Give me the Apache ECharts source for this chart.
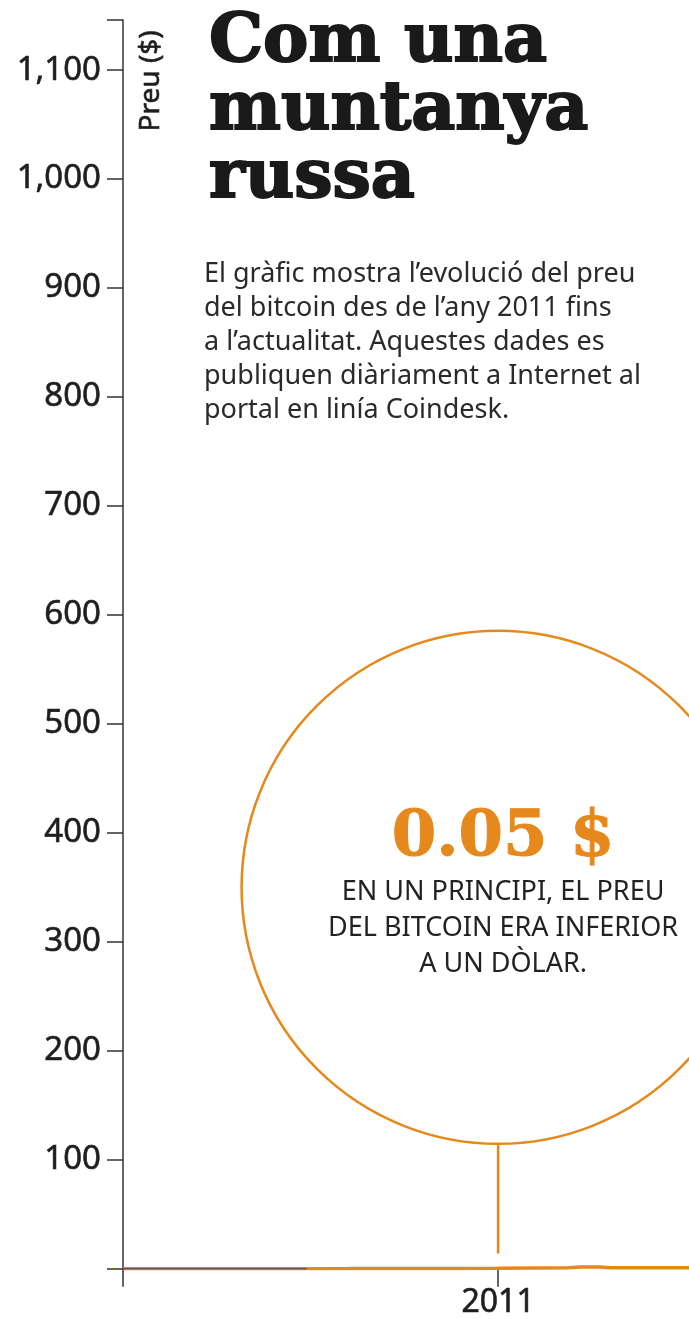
<!DOCTYPE html>
<html style="height: 100%">
<head>
<meta charset="utf-8">
<script src="https://cdn.jsdelivr.net/npm/echarts@6/dist/echarts.min.js"></script>
</head>
<body style="width: 100%; height: 100%; margin: 0; background: #fff; overflow: hidden;">
<div id="container" style="width: 740px; height: 1319px"></div>
<script type="text/javascript">
	// preu del bitcoin (any decimal, $)
	var priceData = [
		[2010.0, 0.05], [2010.49, 0.05], [2010.6, 0.07], [2010.75, 0.2], [2010.9, 0.25],
		[2011.0, 0.3], [2011.1, 0.7], [2011.19, 0.9], [2011.22, 1.6],
		[2011.27, 1.6], [2011.3, 0.9], [2011.4, 0.8], [2011.5, 0.9], [2011.64, 1.0]
	];
	// tram sense dades abans de juliol de 2010
	var noData = [[2010.0, 0], [2010.49, 0]];
	var yTicks = [100, 200, 300, 400, 500, 600, 700, 800, 900, 1000, 1100];
	var yMax = 1146;
	var xMin = 2010, xMax = 2011.637;
	var yearLabel = 2011;
	// cercle d'anotació i línia que el lliga a l'eix
	var calloutPoint = [[2011, 350]];
	var calloutStem = [[2011, 14], [2011, 115]];
	var calloutValue = '0.05 $';
	var calloutLines = ['EN UN PRINCIPI, EL PREU', 'DEL BITCOIN ERA INFERIOR', 'A UN DÒLAR.'];
	var titleLines = ['Com una', 'muntanya', 'russa'];
	var introLines = [
		'El gràfic mostra l\u2019evolució del preu',
		'del bitcoin des de l\u2019any 2011 fins',
		'a l\u2019actualitat. Aquestes dades es',
		'publiquen diàriament a Internet al',
		'portal en linía Coindesk.'
	];

	var orange = '#e5891c';
	var ink = '#1e1e1e';
	var sans = '"Noto Sans", sans-serif';

	var myChart = echarts.init(document.getElementById('container'), null, {renderer: 'canvas'});
	var option = {
		animation: false,
		backgroundColor: '#fff',
		title: [
			{
				text: titleLines.join('\n'),
				left: 204,
				top: 4,
				textStyle: {
					fontFamily: '"DejaVu Serif", serif',
					fontWeight: 'bold',
					fontSize: 68,
					lineHeight: 68,
					color: '#1a1a1a',
					textBorderColor: '#1a1a1a',
					textBorderWidth: 2
				}
			},
			{
				text: introLines.join('\n'),
				left: 199,
				top: 252,
				textStyle: {
					fontFamily: sans,
					fontWeight: 'normal',
					fontSize: 27,
					lineHeight: 34,
					color: '#2a2a2a'
				}
			}
		],
		graphic: [{
			type: 'text',
			left: 137,
			top: 30,
			rotation: Math.PI / 2,
			style: {
				text: 'Preu ($)',
				font: '28px "Noto Sans", sans-serif',
				fill: ink,
				stroke: ink,
				lineWidth: 0.6
			}
		}],
		grid: {
			left: 123,
			right: 0,
			top: 20,
			bottom: 49
		},
		xAxis: {
			type: 'value',
			min: xMin,
			max: xMax,
			interval: 1,
			splitLine: {show: false},
			axisLine: {show: false},
			axisTick: {show: true, length: 18, lineStyle: {color: '#333', width: 1.5}},
			axisLabel: {
				margin: 18,
				fontFamily: sans,
				fontSize: 32,
				color: ink,
				textBorderColor: ink,
				textBorderWidth: 0.6,
				formatter: function (v) {
					return v === yearLabel ? String(v) : '';
				}
			}
		},
		yAxis: {
			type: 'value',
			min: 0,
			max: yMax,
			interval: 100,
			splitLine: {show: false},
			axisLine: {show: true, lineStyle: {color: '#333', width: 1.5}},
			axisTick: {show: true, length: 16, lineStyle: {color: '#333', width: 1.5}},
			axisLabel: {
				margin: 22,
				fontFamily: sans,
				fontSize: 33,
				color: ink,
				textBorderColor: ink,
				textBorderWidth: 0.6,
				formatter: function (v) {
					return yTicks.indexOf(v) >= 0 ? echarts.format.addCommas(v) : '';
				}
			}
		},
		series: [
			{
				type: 'line',
				data: priceData,
				showSymbol: false,
				lineStyle: {color: orange, width: 3.5},
				z: 3
			},
			{
				type: 'line',
				data: noData,
				showSymbol: false,
				lineStyle: {color: '#555', width: 1.5},
				z: 4
			},
			{
				type: 'line',
				data: calloutStem,
				showSymbol: false,
				lineStyle: {color: orange, width: 2.5}
			},
			{
				type: 'scatter',
				data: calloutPoint,
				symbol: 'circle',
				symbolSize: 513,
				clip: false,
				itemStyle: {color: 'rgba(0,0,0,0)', borderColor: orange, borderWidth: 2.5, opacity: 1},
				label: {
					show: true,
					position: 'inside',
					offset: [5, 5],
					align: 'center',
					opacity: 1,
					textBorderWidth: 0,
					formatter: '{big|' + calloutValue + '}\n' + calloutLines.map(function (l) {
						return '{small|' + l + '}';
					}).join('\n'),
					rich: {
						big: {
							fontFamily: '"DejaVu Serif", serif',
							fontWeight: 'bold',
							fontSize: 64,
							lineHeight: 72,
							color: orange,
							textBorderColor: orange,
							textBorderWidth: 1,
							align: 'center'
						},
						small: {
							fontFamily: sans,
							fontSize: 27,
							lineHeight: 36,
							color: '#222',
							textBorderWidth: 0,
							align: 'center'
						}
					}
				}
			}
		]
	};
	myChart.setOption(option);
</script>
</body>
</html>
